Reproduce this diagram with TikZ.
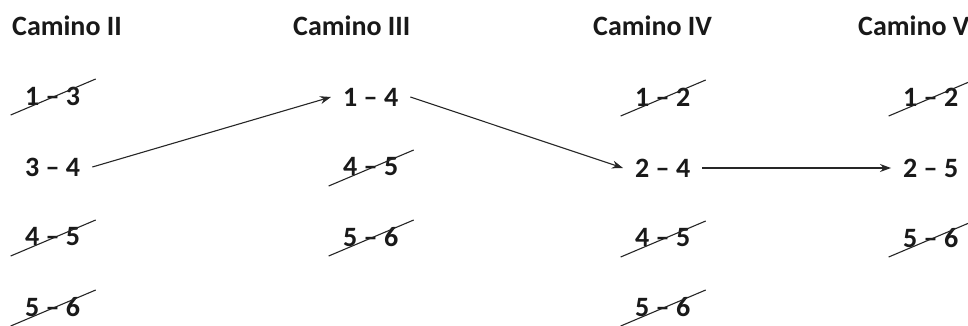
\documentclass[tikz,border=0pt]{standalone}
\usepackage{fontspec}
\setmainfont{Carlito}
\usetikzlibrary{arrows.meta,calc}
\begin{document}
\begin{tikzpicture}[x=1pt,y=-1pt,
  every node/.style={font=\fontsize{28}{34}\selectfont\bfseries, text=black!90},
  item/.style={anchor=west, inner xsep=12pt, inner ysep=0pt},
  head/.style={anchor=west, inner sep=0pt},
  cross/.style={line width=1.1pt, black!85},
  arr/.style={line width=1.1pt, black!85, -{Stealth[length=11pt,width=8pt]}}]
\useasboundingbox (0,0) rectangle (968,326);
% headers
\node[head] (h1) at (12,26) {Camino II};
\node[head] (h2) at (293,26) {Camino III};
\node[head] (h3) at (593,26) {Camino IV};
\node[head] (h4) at (858,26) {Camino V};
% column 1
\node[item] (a1) at (13,96) {1 – 3};
\node[item] (a2) at (13,167) {3 – 4};
\node[item] (a3) at (13,237) {4 – 5};
\node[item] (a4) at (13,307) {5 – 6};
% column 2
\node[item] (b1) at (331,97) {1 – 4};
\node[item] (b2) at (331,167) {4 – 5};
\node[item] (b3) at (331,237) {5 – 6};
% column 3
\node[item] (c1) at (623,97) {1 – 2};
\node[item] (c2) at (623,168) {2 – 4};
\node[item] (c3) at (623,238) {4 – 5};
\node[item] (c4) at (623,307) {5 – 6};
% column 4
\node[item] (d1) at (891,97) {1 – 2};
\node[item] (d2) at (891,168) {2 – 5};
\node[item] (d3) at (891,238) {5 – 6};
% strike-outs
\foreach \n in {a1,a3,a4,b2,b3,c1,c3,c4,d1,d3}
  \draw[cross] ($(\n.center)+(-42,19)$) -- ($(\n.center)+(43,-17)$);
% arrows
\draw[arr] (a2.east) -- (b1.west);
\draw[arr] (b1.east) -- (c2.west);
\draw[arr] (c2.east) -- (d2.west);
\end{tikzpicture}
\end{document}
